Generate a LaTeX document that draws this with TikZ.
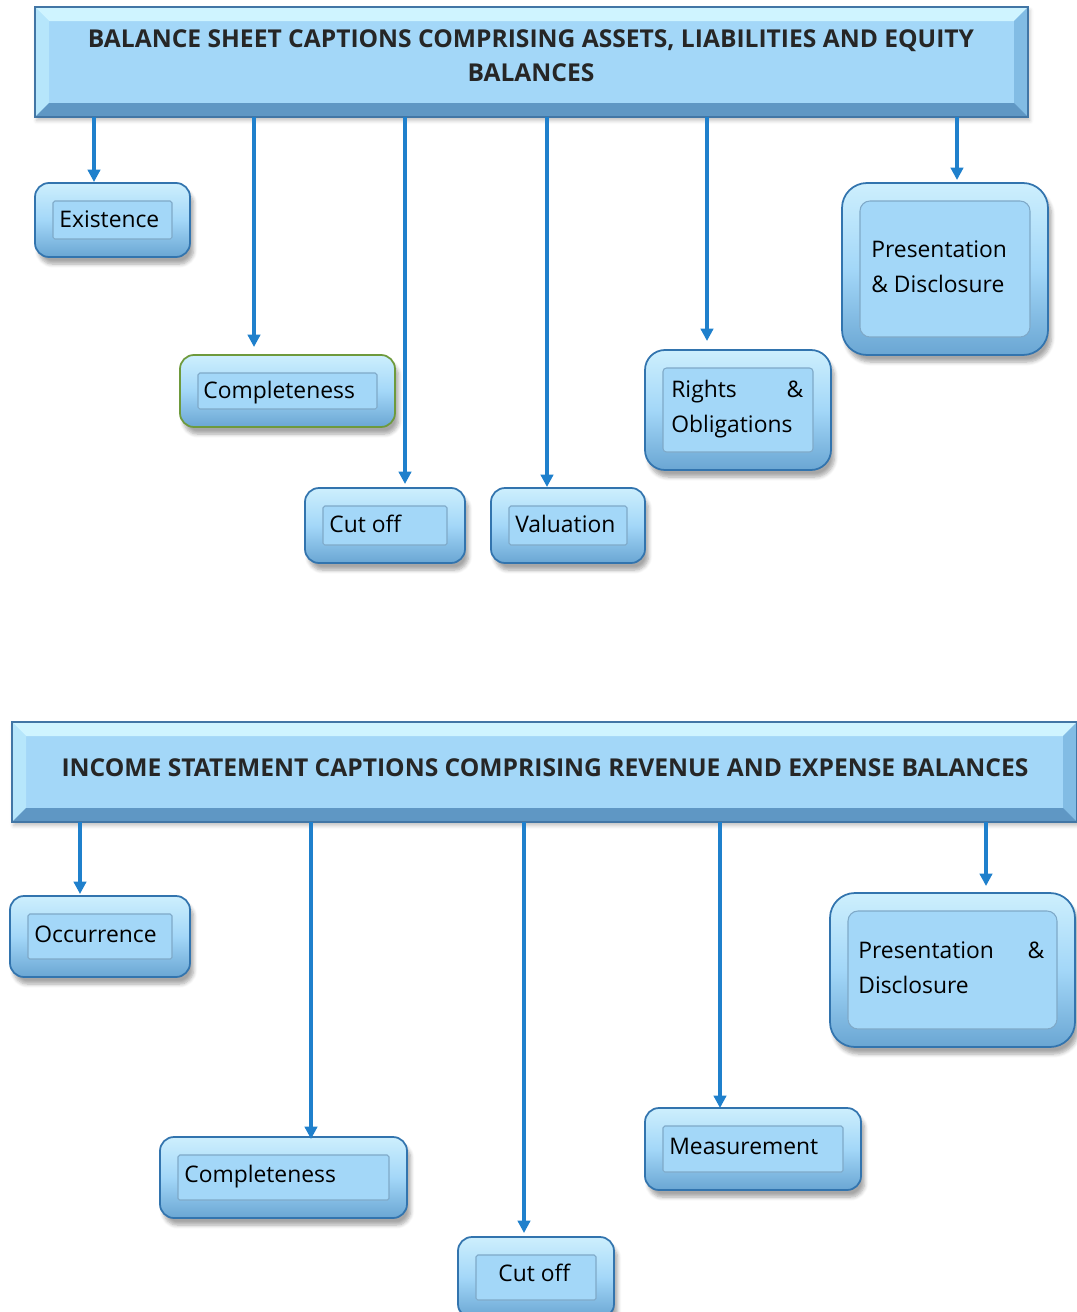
\documentclass[tikz,border=0pt]{standalone}
\usepackage{fontspec}
\setmainfont{Open Sans}
\usetikzlibrary{shadows.blur,arrows.meta,calc}
\definecolor{arrowc}{HTML}{1F80CC}
\definecolor{boxfill}{HTML}{A3D7F8}
\definecolor{boxedge}{HTML}{3274AE}
\definecolor{boxtop}{HTML}{CDEFFD}
\definecolor{boxbot}{HTML}{6AA6D3}
\definecolor{inedge}{HTML}{7FA9C8}
\definecolor{greenedge}{HTML}{6E9A3C}
\definecolor{bevtop}{HTML}{CFF4FF}
\definecolor{bevleft}{HTML}{B6E6FB}
\definecolor{bevright}{HTML}{82BCE4}
\definecolor{bevbot}{HTML}{5F97C4}
\tikzset{
 outerbox/.style={draw=boxedge, line width=1pt, rounded corners=0.28cm, top color=boxtop, bottom color=boxbot, middle color=boxfill,
   blur shadow={shadow xshift=2pt, shadow yshift=-4pt, shadow blur steps=6, shadow opacity=35}},
 innerbox/.style={draw=inedge, line width=0.6pt, fill=boxfill, rounded corners=1pt},
 lbl/.style={font=\fontsize{13}{20}\selectfont, inner sep=0pt, anchor=west, align=left},
 ttl/.style={font=\bfseries\fontsize{14}{19.3}\selectfont, inner sep=0pt, align=center, text=black!85},
 arr/.style={draw=arrowc, line width=2.3pt, -{Triangle[width=7pt,length=7pt]}},
}
% #1 outer style, #2 inner style, #3 name, #4 x1, #5 y1, #6 x2, #7 y2
\newcommand\abox[7]{%
 \node[outerbox,#1,minimum width={(#6-#4)*0.02cm},minimum height={(#7-#5)*0.02cm},inner sep=0pt] (#3) at ({(#4+#6)/2},{(#5+#7)/2}) {};
 \node[innerbox,#2,minimum width={(#6-#4-36)*0.02cm},minimum height={(#7-#5-36)*0.02cm},inner sep=0pt] (#3-in) at (#3.center) {};
}
% #1 name, #2 x1, #3 y1, #4 x2, #5 y2, #6 bevel
\newcommand\banner[6]{%
 \node[minimum width={(#4-#2)*0.02cm},minimum height={(#5-#3)*0.02cm},inner sep=0pt,outer sep=0pt,
   blur shadow={shadow xshift=1pt, shadow yshift=-2pt, shadow opacity=25}, fill=boxfill] (#1) at ({(#2+#4)/2},{(#3+#5)/2}) {};
 \node[minimum width={(#4-#2-2*#6)*0.02cm},minimum height={(#5-#3-2*#6)*0.02cm},inner sep=0pt,outer sep=0pt,fill=boxfill] (#1-in) at (#1.center) {};
 \fill[bevtop] (#1.north west) -- (#1.north east) -- (#1-in.north east) -- (#1-in.north west) -- cycle;
 \fill[bevleft] (#1.north west) -- (#1-in.north west) -- (#1-in.south west) -- (#1.south west) -- cycle;
 \fill[bevright] (#1.north east) -- (#1-in.north east) -- (#1-in.south east) -- (#1.south east) -- cycle;
 \fill[bevbot] (#1.south west) -- (#1-in.south west) -- (#1-in.south east) -- (#1.south east) -- cycle;
 \draw[boxedge!80!gray, line width=0.8pt] (#1.north west) rectangle (#1.south east);
}
\begin{document}
\begin{tikzpicture}[x=0.02cm,y=-0.02cm]
\useasboundingbox (0,0) rectangle (1077,1312);
% ---------- top part ----------
\banner{bs}{35}{7}{1028}{117}{14}
\node[ttl] (t-bs) at (531,56) {BALANCE SHEET CAPTIONS COMPRISING ASSETS, LIABILITIES AND EQUITY\\BALANCES};

\abox{}{}{ex}{35}{183}{190}{257}
\abox{draw=greenedge}{}{co}{180}{355}{395}{427}
\abox{}{}{cu}{305}{488}{465}{563}
\abox{}{}{va}{491}{488}{645}{563}
\abox{rounded corners=0.4cm}{rounded corners=2pt}{ri}{645}{350}{831}{470}
\abox{rounded corners=0.5cm}{rounded corners=0.2cm}{pr}{842}{183}{1048}{355}

\node[lbl] (t-ex) at (59,219) {Existence};
\node[lbl] (t-co) at (203,393) {Completeness};
\node[lbl] (t-cu) at (329,524) {Cut off};
\node[lbl] (t-va) at (515,524) {Valuation};
\node[lbl, text width=2.64cm] (t-ri) at (671,409) {Rights\hfill\&\\Obligations};
\node[lbl] (t-pr) at (871,266.5) {Presentation\\\& Disclosure};

\coordinate (a1) at (94,182);
\coordinate (a2) at (254,347);
\coordinate (a3) at (405,484);
\coordinate (a4) at (547,487);
\coordinate (a5) at (707,341);
\coordinate (a6) at (957,180);
\foreach \c in {a1,a2,a3,a4,a5,a6} \draw[arr] (bs.south -| \c) -- (\c);

% ---------- bottom part ----------
\banner{is}{12}{722}{1077}{822}{14}
\node[ttl] (t-is) at (545,768) {INCOME STATEMENT CAPTIONS COMPRISING REVENUE AND EXPENSE BALANCES};

\abox{}{}{oc}{10}{896}{190}{977}
\abox{}{}{co2}{160}{1137}{407}{1218}
\abox{}{}{cu2}{458}{1237}{614}{1318}
\abox{}{}{me}{645}{1108}{861}{1190}
\abox{rounded corners=0.5cm}{rounded corners=0.2cm}{pr2}{830}{893}{1075}{1047}

\node[lbl] (t-oc) at (34,934) {Occurrence};
\node[lbl] (t-co2) at (184,1177) {Completeness};
\node[lbl] (t-cu2) at (498,1273) {Cut off};
\node[lbl] (t-me) at (669,1146) {Measurement};
\node[lbl, text width=3.72cm] (t-pr2) at (858,967.5) {Presentation\hfill\&\\Disclosure};

\coordinate (b1) at (80,894);
\coordinate (b2) at (311,1139);
\coordinate (b3) at (524,1233);
\coordinate (b4) at (720,1108);
\coordinate (b5) at (986,886);
\foreach \c in {b1,b2,b3,b4,b5} \draw[arr] (is.south -| \c) -- (\c);
\end{tikzpicture}
\end{document}
